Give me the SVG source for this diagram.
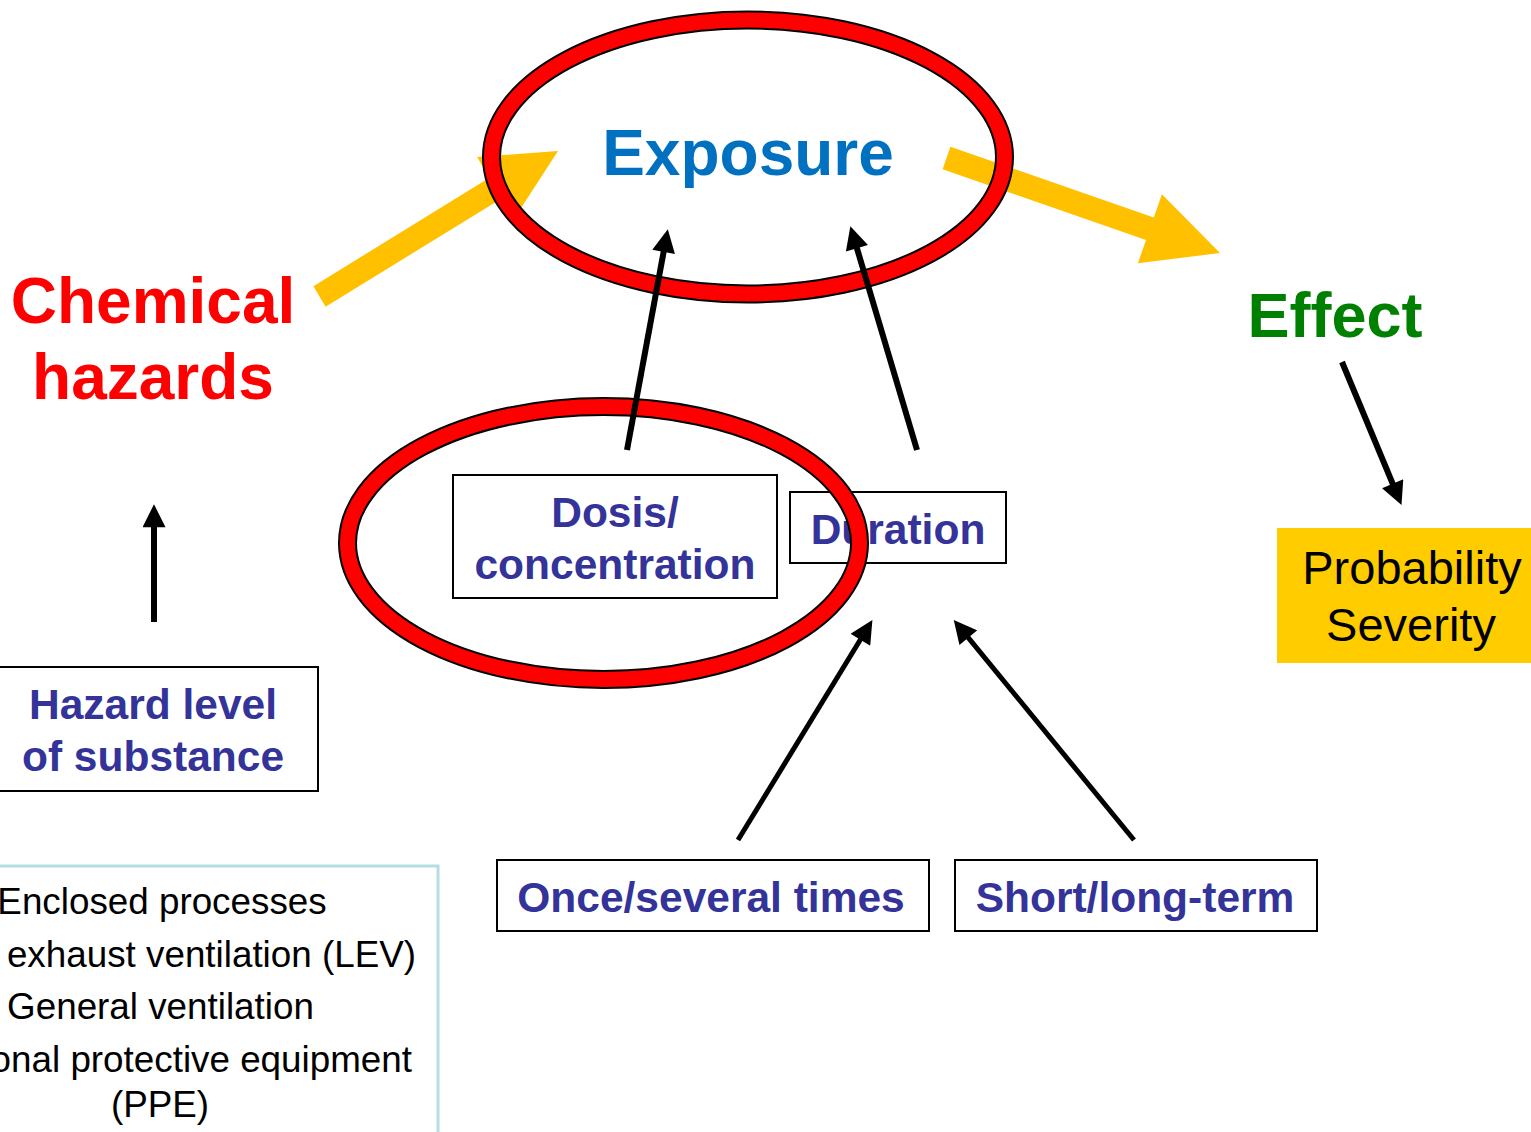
<svg xmlns="http://www.w3.org/2000/svg" width="1531" height="1132" viewBox="0 0 1531 1132">
  <style>
    .bold { font-family: "Liberation Sans", Arial, sans-serif; font-weight: bold; text-anchor: middle; }
    .reg { font-family: "Liberation Sans", Arial, sans-serif; text-anchor: middle; fill: #000; }
    .end { text-anchor: end; }
    .box { fill: #fff; stroke: #000; stroke-width: 2; }
    .lbl { fill: #333399; font-size: 42.5px; }
    .ctl { font-size: 36.8px; }
    .ring-edge { fill: none; stroke: #000; stroke-width: 19; }
    .ring { fill: none; stroke: #FF0000; stroke-width: 15; }
    .yarrow { fill: #FFC000; }
    .conn { stroke: #000; stroke-width: 6; fill: none; marker-end: url(#head); }
    .conn-thin { stroke: #000; stroke-width: 5; fill: none; marker-end: url(#head); }
  </style>
  <defs>
    <marker id="head" viewBox="0 0 10 10" refX="4" refY="5" markerWidth="25" markerHeight="23" markerUnits="userSpaceOnUse" orient="auto">
      <path d="M0,0 L10,5 L0,10 z" fill="#000"/>
    </marker>
  </defs>
  <rect width="1531" height="1132" fill="#fff"/>

  <!-- broad yellow flow arrows -->
  <g id="flow-arrows">
    <polygon class="yarrow" points="313.4,286.2 489.4,177.8 477.1,157.1 558,151 513.9,219.1 501.6,198.4 325.6,306.8"/>
    <polygon class="yarrow" points="950.4,146.7 1153.8,217.4 1161.9,194.2 1220,253 1137.9,263.2 1146.0,240.0 942.6,169.3"/>
  </g>

  <g id="chemical-hazards">
    <text class="bold" x="153" y="323" font-size="64" fill="#FF0000">Chemical</text>
    <text class="bold" x="153" y="399" font-size="64" fill="#FF0000">hazards</text>
  </g>

  <g id="exposure">
    <text class="bold" x="748" y="175" font-size="64" fill="#0070C0">Exposure</text>
  </g>

  <g id="effect">
    <text class="bold" x="1335" y="337" font-size="63" fill="#008000">Effect</text>
  </g>

  <g id="probability-severity">
    <rect x="1277" y="528" width="260" height="135" fill="#FFCC00"/>
    <text class="reg" x="1412" y="584" font-size="47">Probability</text>
    <text class="reg" x="1411" y="641" font-size="47">Severity</text>
  </g>

  <g id="dosis">
    <rect class="box" x="453" y="475" width="324" height="123"/>
    <text class="bold lbl" x="615" y="526.5">Dosis/</text>
    <text class="bold lbl" x="615" y="578.5">concentration</text>
  </g>

  <g id="duration">
    <rect class="box" x="790" y="492" width="216" height="71"/>
    <text class="bold lbl" x="898" y="543.5">Duration</text>
  </g>

  <g id="hazard-level">
    <rect class="box" x="-10" y="667" width="328" height="124"/>
    <text class="bold lbl" x="153" y="719">Hazard level</text>
    <text class="bold lbl" x="153" y="771">of substance</text>
  </g>

  <g id="frequency">
    <rect class="box" x="497" y="860" width="432" height="71"/>
    <text class="bold lbl" x="711" y="912">Once/several times</text>
  </g>

  <g id="term">
    <rect class="box" x="955" y="860" width="362" height="71"/>
    <text class="bold lbl" x="1135" y="912">Short/long-term</text>
  </g>

  <g id="control-measures">
    <rect x="-10" y="866" width="448" height="290" fill="#fff" stroke="#B6DDE1" stroke-width="3"/>
    <text class="reg ctl" x="162" y="914">Enclosed processes</text>
    <text class="reg ctl end" x="416" y="967">Local exhaust ventilation (LEV)</text>
    <text class="reg ctl" x="160.5" y="1019">General ventilation</text>
    <text class="reg ctl end" x="412" y="1072">Personal protective equipment</text>
    <text class="reg ctl" x="160" y="1117">(PPE)</text>
  </g>

  <!-- red highlight rings -->
  <g id="highlight-exposure">
    <ellipse class="ring-edge" cx="748" cy="157" rx="256.5" ry="137"/>
    <ellipse class="ring" cx="748" cy="157" rx="256.5" ry="137"/>
  </g>
  <g id="highlight-dosis">
    <ellipse class="ring-edge" cx="603.5" cy="543" rx="256" ry="136.5"/>
    <ellipse class="ring" cx="603.5" cy="543" rx="256" ry="136.5"/>
  </g>

  <!-- connectors -->
  <g id="connectors">
    <line class="conn" x1="627" y1="450" x2="665.3" y2="242.8"/>
    <line class="conn" x1="917" y1="450" x2="854.3" y2="239.4"/>
    <line class="conn" x1="1342" y1="362" x2="1396.2" y2="492.2"/>
    <line class="conn-thin" x1="738" y1="840" x2="865.2" y2="631.8"/>
    <line class="conn-thin" x1="1134" y1="840" x2="962.5" y2="630.6"/>
    <line class="conn" x1="154" y1="622" x2="154" y2="518"/>
  </g>
</svg>
